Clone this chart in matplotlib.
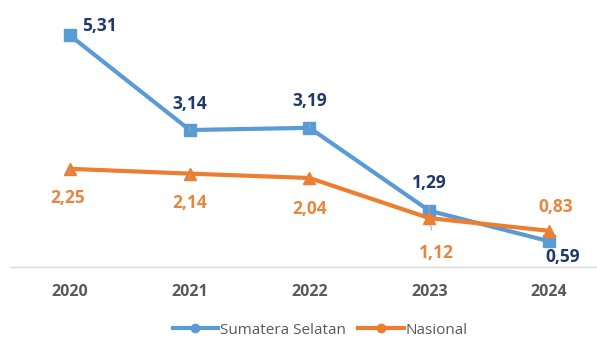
import matplotlib
matplotlib.use("Agg")
import matplotlib.pyplot as plt
from matplotlib.lines import Line2D

years = ["2020", "2021", "2022", "2023", "2024"]
sumsel = [5.31, 3.14, 3.19, 1.29, 0.59]
nasional = [2.25, 2.14, 2.04, 1.12, 0.83]
series_names = ["Sumatera Selatan", "Nasional"]

blue = "#5B9BD5"
orange = "#ED7D31"
navy = "#1F3A68"
orange_txt = "#E8853F"
gray = "#595959"

plt.rcParams['font.family'] = ['Open Sans', 'DejaVu Sans']

fig = plt.figure(figsize=(5.97, 3.40), dpi=100)
ax = fig.add_axes([10/597, (340-267)/340, 587/597, 267/340])
x = list(range(len(years)))

ax.plot(x, sumsel, color=blue, lw=3, marker='s', ms=9, zorder=3)
ax.plot(x, nasional, color=orange, lw=3, marker='^', ms=9, zorder=3)

def fmt(v):
    return f"{v:.2f}".replace('.', ',')

# label offsets in points (dx, dy)
blue_off = [(21, 7), (0, 19), (0, 19), (0, 20), (10, -11)]
orange_off = [(-2, -21), (0, -21), (0, -22), (5, -25), (5, 17)]

for i, v in enumerate(sumsel):
    dx, dy = blue_off[i]
    ax.annotate(fmt(v), (i, v), xytext=(dx, dy), textcoords='offset points',
                ha='center', va='center', fontsize=12.5, fontweight='bold', color=navy,
                arrowprops=dict(arrowstyle='-', color='#A6A6A6', lw=0.7,
                                shrinkA=8, shrinkB=5) if i in (1, 2, 3) else None,
                zorder=4)
for i, v in enumerate(nasional):
    dx, dy = orange_off[i]
    ax.annotate(fmt(v), (i, v), xytext=(dx, dy), textcoords='offset points',
                ha='center', va='center', fontsize=12.5, fontweight='bold', color=orange_txt,
                arrowprops=dict(arrowstyle='-', color='#A6A6A6', lw=0.7,
                                shrinkA=8, shrinkB=5) if i in (0, 1, 3, 4) else None,
                zorder=4)

ax.set_xlim(-0.5, 4.4)
ax.set_ylim(0, 6.12)
ax.set_xticks(x)
ax.set_xticklabels(years, fontsize=11.5, fontweight='bold', color=gray)
ax.tick_params(axis='x', length=0, pad=12)
ax.set_yticks([])
for s in ['top', 'right', 'left']:
    ax.spines[s].set_visible(False)
ax.spines['bottom'].set_color('#D9D9D9')
ax.spines['bottom'].set_linewidth(1)

handles = [Line2D([0], [0], color=blue, lw=3, marker='o', ms=6),
           Line2D([0], [0], color=orange, lw=3, marker='o', ms=6)]
fig.legend(handles, series_names, loc='center', bbox_to_anchor=(320/597, 1 - 330/340),
           ncol=2, frameon=False, fontsize=11, handlelength=3, columnspacing=0.8,
           handletextpad=0.1, labelcolor=gray, borderpad=0.1)

fig.savefig("out.png", dpi=100)
